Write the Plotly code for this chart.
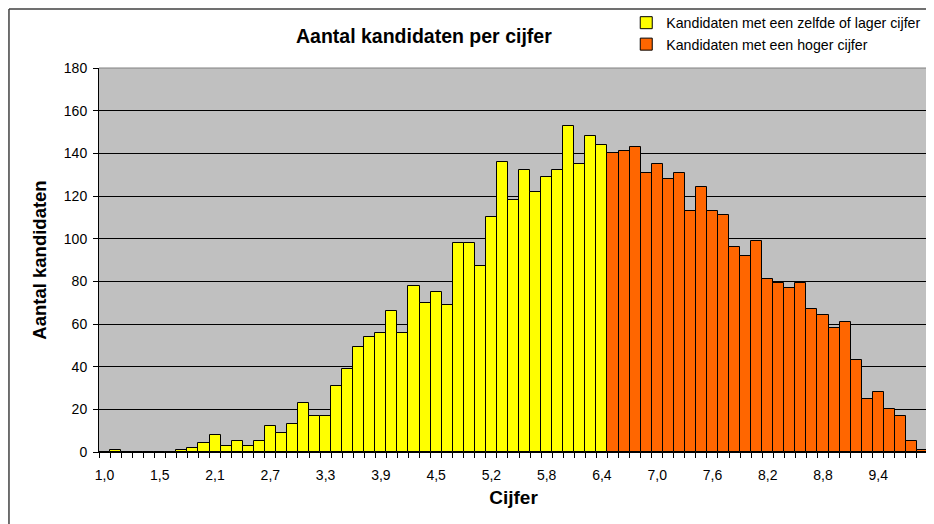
import plotly.graph_objects as go

# Score index (one bar per possible grade step)
scores_low = list(range(0, 46))
scores_high = list(range(46, 75))

# Number of candidates per grade
counts_low = [0, 1, 0, 0, 0, 0, 0, 1, 2, 4, 8, 3, 5, 3, 5, 12, 9, 13, 23, 17,
              17, 31, 39, 49, 54, 56, 66, 56, 78, 70, 75, 69, 98, 98, 87, 110,
              136, 118, 132, 122, 129, 132, 153, 135, 148, 144]
counts_high = [140, 141, 143, 131, 135, 128, 131, 113, 124, 113, 111, 96, 92,
               99, 81, 79, 77, 79, 67, 64, 58, 61, 43, 25, 28, 20, 17, 5, 1]

# Tick labels (every 5th grade step)
tick_scores = list(range(0, 75, 5))
tick_labels = ["1,0", "1,5", "2,1", "2,7", "3,3", "3,9", "4,5", "5,2", "5,8",
               "6,4", "7,0", "7,6", "8,2", "8,8", "9,4"]

name_low = "Kandidaten met een zelfde of lager cijfer"
name_high = "Kandidaten met een hoger cijfer"

FONT = "Liberation Sans, Arial, sans-serif"

fig = go.Figure()
fig.add_trace(go.Bar(x=scores_low, y=counts_low, name=name_low,
                     marker=dict(color="#FFFF00", line=dict(color="#000000", width=1))))
fig.add_trace(go.Bar(x=scores_high, y=counts_high, name=name_high,
                     marker=dict(color="#FF6600", line=dict(color="#000000", width=1))))

fig.update_layout(
    width=926, height=516,
    margin=dict(l=91, r=6, t=60, b=72, pad=0, autoexpand=False),
    paper_bgcolor="#FFFFFF",
    plot_bgcolor="#C0C0C0",
    barmode="overlay",
    bargap=0,
    font=dict(family=FONT, size=14, color="#000000"),
    showlegend=True,
    legend=dict(x=0.636, y=1.159, xanchor="left", yanchor="top",
                bgcolor="rgba(0,0,0,0)", font=dict(size=14.2),
                tracegroupgap=0),
    xaxis=dict(range=[-0.5, 74.5], tickmode="array", tickvals=tick_scores,
               ticktext=tick_labels, ticks="", showgrid=False, zeroline=False,
               showline=True, linecolor="#000000", linewidth=1,
               tickfont=dict(size=14), ticklabelstandoff=10,
               minor=dict(tickmode="linear", tick0=-0.5, dtick=1, ticks="outside",
                          ticklen=5, tickcolor="#000000", showgrid=False),
               title=dict(text="<b>Cijfer</b>", font=dict(size=19), standoff=8)),
    yaxis=dict(range=[0, 180], tickmode="linear", tick0=0, dtick=20,
               ticks="outside", ticklen=5, tickcolor="#000000",
               showgrid=True, gridcolor="#000000", gridwidth=1,
               zeroline=False, showline=True, linecolor="#000000", linewidth=1,
               tickfont=dict(size=14), ticklabelstandoff=3,
               title=dict(text="<b>Aantal kandidaten</b>", font=dict(size=18.5), standoff=12)),
    annotations=[dict(text="<b>Aantal kandidaten per cijfer</b>", xref="paper", yref="paper",
                      x=0.392, y=1.083, xanchor="center", yanchor="middle",
                      showarrow=False, font=dict(size=19.5))],
    shapes=[
        # plot-area top and right border (grey)
        dict(type="line", xref="paper", yref="paper", x0=0, x1=1, y0=1, y1=1,
             line=dict(color="#808080", width=1), layer="above"),
        dict(type="line", xref="paper", yref="paper", x0=1, x1=1, y0=0, y1=1,
             line=dict(color="#808080", width=1), layer="above"),
        # chart frame (left and top edges)
        dict(type="line", xref="paper", yref="paper", x0=-0.1086, x1=-0.1086, y0=-0.3, y1=1.1536,
             line=dict(color="#404040", width=1.5), layer="below"),
        dict(type="line", xref="paper", yref="paper", x0=-0.1086, x1=1.2, y0=1.1536, y1=1.1536,
             line=dict(color="#404040", width=1.5), layer="below"),
    ],
)

fig.write_html("out.html")
